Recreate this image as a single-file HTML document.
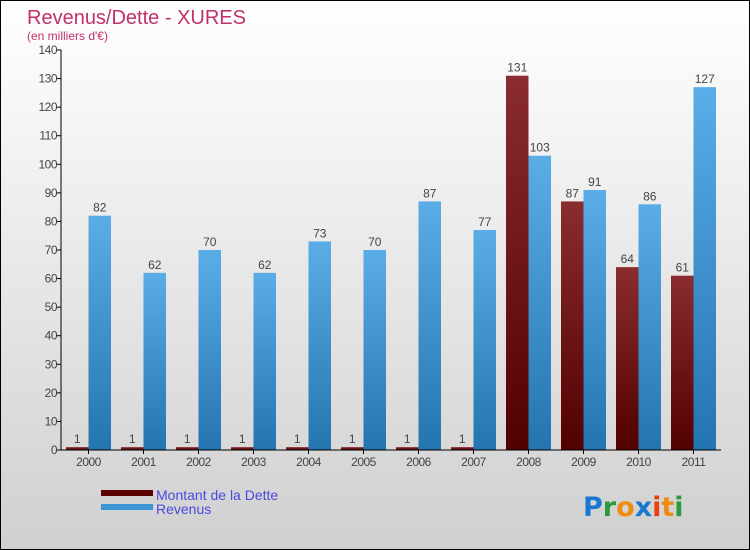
<!DOCTYPE html>
<html><head><meta charset="utf-8"><style>
body{margin:0}
#c{position:relative;width:748px;height:548px;border:1px solid #000;background:linear-gradient(#fff,#d0d0d0);font-family:"Liberation Sans",sans-serif;overflow:hidden}
</style></head><body>
<div id="c">
<svg width="748" height="548" id="s">
<defs>
<linearGradient id="gd" x1="0" y1="0" x2="0" y2="1"><stop offset="0" stop-color="#8a2c30"/><stop offset="1" stop-color="#520000"/></linearGradient>
<linearGradient id="gr" x1="0" y1="0" x2="0" y2="1"><stop offset="0" stop-color="#5aade6"/><stop offset="1" stop-color="#2474b0"/></linearGradient>
</defs>
<text x="26" y="23" font-size="20" fill="#c0306a">Revenus/Dette - XURES</text>
<text x="26" y="39" font-size="12" fill="#c0306a">(en milliers d'€)</text>
<g id="g"></g>
<rect x="100" y="489" width="52" height="6" fill="#5a0000"/>
<rect x="100" y="503" width="52" height="6" fill="#3a94d6"/>
<text x="155" y="499" font-size="14" fill="#4a4ae0">Montant de la Dette</text>
<text x="155" y="513" font-size="14" fill="#4a4ae0">Revenus</text>
<text x="582" y="515" font-size="27" font-family="'DejaVu Sans',sans-serif" font-weight="bold"><tspan fill="#1a78d0">P</tspan><tspan fill="#2a9a3a">r</tspan><tspan fill="#f08a10">o</tspan><tspan fill="#1a78d0">x</tspan><tspan fill="#e84010">i</tspan><tspan fill="#f08a10">t</tspan><tspan fill="#2a9a3a">i</tspan></text>
</svg></div>
<script>
const years=["2000","2001","2002","2003","2004","2005","2006","2007","2008","2009","2010","2011"];
const dette=[1,1,1,1,1,1,1,1,131,87,64,61];
const revenus=[82,62,70,62,73,70,87,77,103,91,86,127];
const ticks=[0,10,20,30,40,50,60,70,80,90,100,110,120,130,140];
const g=document.getElementById('g');const NS='http://www.w3.org/2000/svg';
const x0=60,x1=720,y0=449,yTop=49,vmax=140;
const y=v=>y0-(y0-yTop)*v/vmax;
const step=(x1-x0)/years.length;
const cx=i=>x0+step*(i+0.5);
function el(t,a,txt){const e=document.createElementNS(NS,t);for(const k in a)e.setAttribute(k,a[k]);if(txt!==undefined)e.textContent=txt;g.appendChild(e);return e;}
ticks.forEach(t=>{
const l=el('line',{x1:x0-4,x2:x0,y1:y(t),y2:y(t),stroke:'#000'});


const tx=el('text',{x:x0-4,y:y(t)+4,'font-size':12,fill:'#444','text-anchor':'end','letter-spacing':'-0.5'},t);


});
const bw=22.5;
years.forEach((yr,i)=>{
const c=cx(i);
const b1=el('rect',{x:c-bw,y:y(dette[i]),width:bw,height:y0-y(dette[i]),fill:'url(#gd)'});


const b2=el('rect',{x:c,y:y(revenus[i]),width:bw,height:y0-y(revenus[i]),fill:'url(#gr)'});


const l1=el('text',{x:c-bw/2,y:y(dette[i])-4,'font-size':12,fill:'#444','text-anchor':'middle'},dette[i]);


const l2=el('text',{x:c+bw/2,y:y(revenus[i])-4,'font-size':12,fill:'#444','text-anchor':'middle'},revenus[i]);


const tk=el('line',{x1:c,x2:c,y1:y0,y2:y0+4,stroke:'#000'});


const xl=el('text',{x:c,y:y0+16,'font-size':12,fill:'#444','text-anchor':'middle','letter-spacing':'-0.5'},yr);


});
const ya=el('line',{x1:x0,x2:x0,y1:yTop,y2:y0,stroke:'#000'});


const xa=el('line',{x1:x0,x2:x1,y1:y0,y2:y0,stroke:'#000'});


</script>
</body></html>
